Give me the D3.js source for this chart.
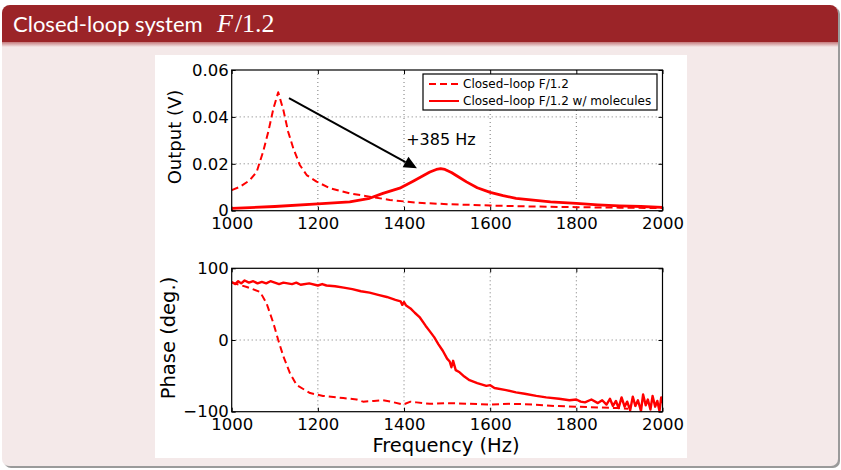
<!DOCTYPE html>
<html>
<head>
<meta charset="utf-8">
<script src="https://cdn.jsdelivr.net/npm/d3@7"></script>
<style>
  html, body { margin: 0; padding: 0; background: #ffffff; }
  svg { display: block; }
</style>
</head>
<body>
<svg id="chart" width="841" height="470"></svg>
<script>
// ---------------- DATA ----------------
const titleText = "Closed-loop system ";
const xTicks = [1000, 1200, 1400, 1600, 1800, 2000];
const outputTicks = [0, 0.02, 0.04, 0.06];
const outputTickLabels = ["0", "0.02", "0.04", "0.06"];
const phaseTicks = [-100, 0, 100];
const phaseTickLabels = ["\u2212100", "0", "100"];
const seriesNames = ["Closed\u2013loop F/1.2", "Closed\u2013loop F/1.2 w/ molecules"];

// Output (V) vs frequency, closed loop F/1.2 (dashed)
const outDashed = [
  [1000,0.0088],[1019,0.0102],[1042,0.0130],[1058,0.0166],[1073,0.0252],[1085,0.0337],
  [1097,0.0437],[1108,0.0505],[1120,0.0429],[1131,0.0337],[1143,0.0266],[1158,0.0195],
  [1174,0.0152],[1197,0.0124],[1228,0.0096],[1274,0.0074],[1320,0.0060],[1367,0.0046],
  [1429,0.0034],[1500,0.0028],[1600,0.0022],[1700,0.0018],[1800,0.0015],[1900,0.0013],[2000,0.0011]
];
// Output (V), closed loop F/1.2 with molecules (solid)
const outSolid = [
  [1000,0.0010],[1100,0.0018],[1200,0.0029],[1274,0.0038],[1320,0.0053],[1351,0.0074],
  [1390,0.0096],[1420,0.0125],[1440,0.0145],[1460,0.0165],[1475,0.0176],[1485,0.0179],
  [1495,0.0176],[1510,0.0163],[1525,0.0146],[1545,0.0123],[1570,0.0098],[1600,0.0078],
  [1630,0.0064],[1660,0.0053],[1700,0.0045],[1740,0.0038],[1800,0.0031],[1850,0.0025],
  [1900,0.0021],[1950,0.0018],[2000,0.0014]
];
// Phase (deg.), closed loop F/1.2 (dashed)
const phaseDashed = [
  [1000,80],[1035,74],[1066,67],[1081,51],[1097,23],[1108,0],[1120,-23],[1135,-46],
  [1151,-63],[1182,-74],[1212,-78],[1259,-81],[1290,-83],[1305,-86],[1330,-85],[1351,-84],
  [1370,-86],[1398,-90],[1415,-86],[1429,-87],[1460,-89],[1500,-88],[1550,-89],[1600,-90],
  [1650,-89],[1700,-90],[1750,-92],[1800,-93],[1850,-94],[1900,-95],[1920,-96]
];
// Phase (deg.), with molecules (solid)
const phaseSolid = [
  [1000,81],[1008,78],[1015,82],[1022,79],[1030,83],[1040,80],[1050,82],[1060,79],[1070,81],
  [1080,79],[1090,82],[1100,80],[1110,78],[1120,80],[1140,78],[1150,80],[1160,77],[1180,79],
  [1200,76],[1210,78],[1220,76],[1240,75],[1260,73],[1280,71],[1300,68],[1320,66],[1340,63],
  [1360,60],[1380,56],[1392,54],[1396,49],[1400,53],[1405,48],[1415,44],[1425,38],[1436,32],
  [1450,20],[1460,12],[1470,4],[1480,-6],[1490,-15],[1500,-26],[1506,-30],[1510,-38],
  [1514,-29],[1520,-42],[1529,-45],[1540,-51],[1552,-56],[1570,-60],[1591,-64],[1600,-63],
  [1610,-67],[1637,-70],[1660,-73],[1680,-75],[1707,-78],[1730,-80],[1760,-82],[1784,-84],
  [1800,-83],[1810,-86],[1820,-87],[1835,-83],[1850,-88],[1860,-84],[1870,-90],[1878,-82],
  [1885,-92],[1892,-85],[1898,-95],[1905,-80],[1912,-93],[1918,-86],[1925,-98],[1931,-79],
  [1937,-92],[1943,-84],[1950,-99],[1955,-76],[1961,-91],[1966,-83],[1972,-97],[1977,-78],
  [1983,-93],[1988,-85],[1993,-99],[1997,-80],[2000,-88]
];
// annotation
const arrowFrom = [1133, 0.048];
const arrowTo = [1430, 0.0181];
const annotText = "+385 Hz";
const annotAt = [1405, 0.028];

// ---------------- DRAW ----------------
const svg = d3.select("#chart");
const red = "#9b2428";
const pink = "#f4e9e9";

const defs = svg.append("defs");
const g1 = defs.append("linearGradient").attr("id","tshadow").attr("x1",0).attr("y1",0).attr("x2",0).attr("y2",1);
g1.append("stop").attr("offset","0%").attr("stop-color","#c57a7c");
g1.append("stop").attr("offset","100%").attr("stop-color",pink);

// block shadow
svg.append("rect").attr("x",4).attr("y",7).attr("width",836).attr("height",461).attr("rx",7).attr("fill","#9a9a9a");
// block body
svg.append("rect").attr("x",2).attr("y",5).attr("width",836).attr("height",461).attr("rx",7).attr("fill",pink);
// title bar with rounded top corners
const tb = d3.path();
const bx0 = 2, bx1 = 838, by0 = 5, by1 = 42, r = 8;
tb.moveTo(bx0, by1); tb.lineTo(bx0, by0 + r); tb.arcTo(bx0, by0, bx0 + r, by0, r);
tb.lineTo(bx1 - r, by0); tb.arcTo(bx1, by0, bx1, by0 + r, r); tb.lineTo(bx1, by1); tb.closePath();
svg.append("path").attr("d", tb.toString()).attr("fill", red);
svg.append("rect").attr("x",2).attr("y",42).attr("width",836).attr("height",5).attr("fill","url(#tshadow)");

const title = svg.append("text").attr("x",13).attr("y",32).attr("fill","#ffffff")
  .style("font-family","Lato, 'DejaVu Sans', sans-serif").style("font-size","22px");
title.append("tspan").text(titleText);
title.append("tspan").attr("x",217).style("font-family","'Liberation Serif', serif").style("font-style","italic").style("font-size","26px").text("F");
title.append("tspan").attr("dx",2).style("font-family","'Liberation Serif', serif").style("font-size","26px").text("/1.2");

// white figure area
svg.append("rect").attr("x",155).attr("y",55).attr("width",532).attr("height",403).attr("fill","#ffffff");

const font = "'DejaVu Sans', sans-serif";
const x = d3.scaleLinear().domain([1000, 2000]).range([231.7, 662.5]);
const yTop = d3.scaleLinear().domain([0, 0.06]).range([210.7, 70]);
const yBot = d3.scaleLinear().domain([-100, 100]).range([411.7, 268.3]);

function panel(y, yTicks, yLabels, clipId, xLabelPad) {
  const g = svg.append("g");
  const x0 = x.range()[0], x1 = x.range()[1];
  const yb = y.range()[0], yt = y.range()[1];
  defs.append("clipPath").attr("id", clipId).append("rect")
    .attr("x", x0).attr("y", yt).attr("width", x1 - x0).attr("height", yb - yt);
  // grid
  g.selectAll(".gx").data(xTicks.slice(1, -1)).join("line")
    .attr("x1", d => x(d)).attr("x2", d => x(d)).attr("y1", yt).attr("y2", yb)
    .attr("stroke", "#555").attr("stroke-width", 0.8).attr("stroke-dasharray", "1,3");
  g.selectAll(".gy").data(yTicks.slice(1, -1)).join("line")
    .attr("y1", d => y(d)).attr("y2", d => y(d)).attr("x1", x0).attr("x2", x1)
    .attr("stroke", "#555").attr("stroke-width", 0.8).attr("stroke-dasharray", "1,3");
  // axes
  const ax = (gen, tr) => {
    const a = g.append("g").attr("transform", tr).call(gen);
    a.select(".domain").remove();
    a.selectAll("line").attr("stroke", "#000");
    a.selectAll("text").style("font-family", font).style("font-size", "16.5px").attr("fill", "#000");
    return a;
  };
  ax(d3.axisBottom(x).tickValues(xTicks).tickSize(-4).tickPadding(xLabelPad).tickFormat(d3.format("d")), `translate(0,${yb})`);
  ax(d3.axisTop(x).tickValues(xTicks).tickSize(-4).tickFormat(""), `translate(0,${yt})`);
  ax(d3.axisLeft(y).tickValues(yTicks).tickSize(-4).tickPadding(3).tickFormat((d, i) => yLabels[i]), `translate(${x0},0)`);
  ax(d3.axisRight(y).tickValues(yTicks).tickSize(-4).tickFormat(""), `translate(${x1},0)`);
  return {g, x0, x1, yt, yb};
}

function drawLine(p, y, data, dashed, clipId, sw) {
  const line = d3.line().x(d => x(d[0])).y(d => y(d[1]));
  p.g.append("path").datum(data).attr("d", line)
    .attr("clip-path", `url(#${clipId})`)
    .attr("fill", "none").attr("stroke", "#ff0000").attr("stroke-width", sw)
    .attr("stroke-linejoin", "round")
    .attr("stroke-dasharray", dashed ? "7,4" : null);
}

// ---- top panel
const pTop = panel(yTop, outputTicks, outputTickLabels, "clipTop", 7);
drawLine(pTop, yTop, outDashed, true, "clipTop", 2);
drawLine(pTop, yTop, outSolid, false, "clipTop", 2.8);
svg.append("rect").attr("x", pTop.x0).attr("y", pTop.yt).attr("width", pTop.x1 - pTop.x0).attr("height", pTop.yb - pTop.yt)
  .attr("fill", "none").attr("stroke", "#000").attr("stroke-width", 1.2);

// arrow annotation
const ax1 = x(arrowFrom[0]), ay1 = yTop(arrowFrom[1]), ax2 = x(arrowTo[0]), ay2 = yTop(arrowTo[1]);
const ang = Math.atan2(ay2 - ay1, ax2 - ax1);
const hl = 13, hw = 6;
const bxh = ax2 - hl * Math.cos(ang), byh = ay2 - hl * Math.sin(ang);
svg.append("line").attr("x1", ax1).attr("y1", ay1).attr("x2", bxh).attr("y2", byh)
  .attr("stroke", "#000").attr("stroke-width", 2);
svg.append("path").attr("d", `M${ax2},${ay2} L${bxh + hw * Math.sin(ang)},${byh - hw * Math.cos(ang)} L${bxh - hw * Math.sin(ang)},${byh + hw * Math.cos(ang)} Z`)
  .attr("fill", "#000");
svg.append("text").attr("x", x(annotAt[0])).attr("y", yTop(annotAt[1]))
  .style("font-family", font).style("font-size", "16px").text(annotText);

// legend
const leg = svg.append("g");
leg.append("rect").attr("x", 423).attr("y", 74).attr("width", 234).attr("height", 36)
  .attr("fill", "#fff").attr("stroke", "#000").attr("stroke-width", 1.2);
seriesNames.forEach((n, i) => {
  const ly = 84 + i * 17;
  leg.append("line").attr("x1", 429).attr("x2", 459).attr("y1", ly).attr("y2", ly)
    .attr("stroke", "#ff0000").attr("stroke-width", 2).attr("stroke-dasharray", i === 0 ? "7,4" : null);
  leg.append("text").attr("x", 463).attr("y", ly).attr("dy", "0.35em")
    .style("font-family", font).style("font-size", "12px").text(n);
});

// ---- bottom panel
const pBot = panel(yBot, phaseTicks, phaseTickLabels, "clipBot", 7);
drawLine(pBot, yBot, phaseDashed, true, "clipBot", 2);
drawLine(pBot, yBot, phaseSolid, false, "clipBot", 2.4);
svg.append("rect").attr("x", pBot.x0).attr("y", pBot.yt).attr("width", pBot.x1 - pBot.x0).attr("height", pBot.yb - pBot.yt)
  .attr("fill", "none").attr("stroke", "#000").attr("stroke-width", 1.2);

// axis labels
svg.append("text").attr("transform", "translate(181,137) rotate(-90)").attr("text-anchor", "middle")
  .style("font-family", font).style("font-size", "18px").text("Output (V)");
svg.append("text").attr("transform", "translate(175,338) rotate(-90)").attr("text-anchor", "middle")
  .style("font-family", font).style("font-size", "19.5px").text("Phase (deg.)");
svg.append("text").attr("x", 446).attr("y", 452).attr("text-anchor", "middle")
  .style("font-family", font).style("font-size", "19.5px").text("Frequency (Hz)");
</script>
</body>
</html>
